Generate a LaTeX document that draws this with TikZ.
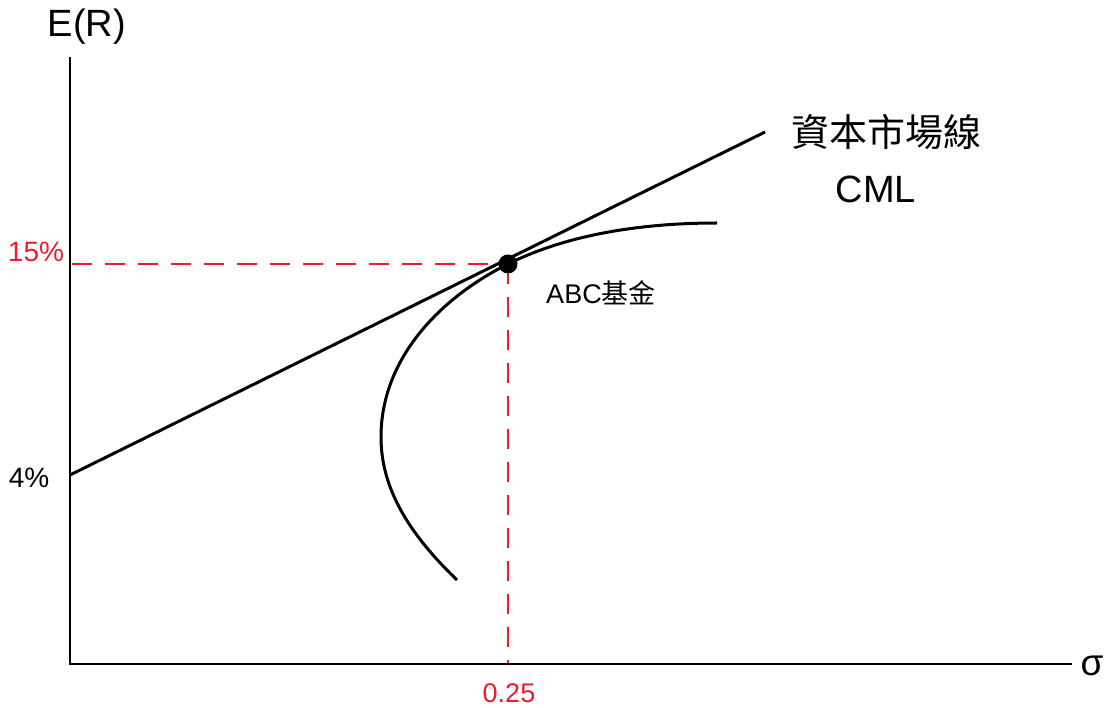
\documentclass[tikz,border=0pt]{standalone}
\usepackage{fontspec}
\setmainfont{Liberation Sans}
\newfontfamily\cjk{Noto Sans CJK TC}
\definecolor{dashred}{RGB}{235,28,45}
\begin{document}
\begin{tikzpicture}[x=1pt,y=-1pt,
  axis/.style={line width=2.4pt,black},
  curveline/.style={line width=3pt,black},
  guide/.style={line width=2pt,dashred,dash pattern=on 20pt off 13pt},
  lbl/.style={inner sep=0pt,anchor=center},
  fs/.style={font=\fontsize{#1}{#1}\selectfont}]
\useasboundingbox (0,0) rectangle (1111,708);
% coordinates
\coordinate (O) at (70,664);
\coordinate (Ytop) at (70,57);
\coordinate (Xend) at (1072,664);
\coordinate (C0) at (70,475);
\coordinate (C1) at (765,132);
\coordinate (P) at (508,264);
\coordinate (Hstart) at (72,264);
\coordinate (Vend) at (508,663);
\coordinate (F0) at (457,580);
\coordinate (F1) at (381,437);
\coordinate (F3) at (717,223);
% dashed guides
\draw[guide] (Hstart) -- (P);
\draw[guide] (P) -- (Vend);
% axes
\draw[axis] (Ytop) -- (O) -- (Xend);
% CML
\draw[curveline] (C0) -- (C1);
% efficient frontier
\draw[curveline] (F0) .. controls (405,530) and (381,485) .. (F1)
  .. controls (381,360) and (438,299) .. (P)
  .. controls (566,235) and (640,223) .. (F3);
% point
\fill (P) circle (9.5);
% labels
\node[lbl,fs=38] (ER) at (87,27) {E(R)};
\node[lbl,fs=37] (sig) at (1092,666) {σ};
\node[lbl,fs=28] [text=dashred] (p15) at (36,252) {15\%};
\node[lbl,fs=28] (p4) at (29,478) {4\%};
\node[lbl,fs=27,text=dashred] (x25) at (509,693) {0.25};
\node[lbl,fs=27] (abc) at (601,293) {ABC{\cjk 基金}};
\node[lbl,fs=38] (zh) at (886,132) {\cjk 資本市場線};
\node[lbl,fs=38] (cml) at (876,189) {CML};
\end{tikzpicture}
\end{document}
